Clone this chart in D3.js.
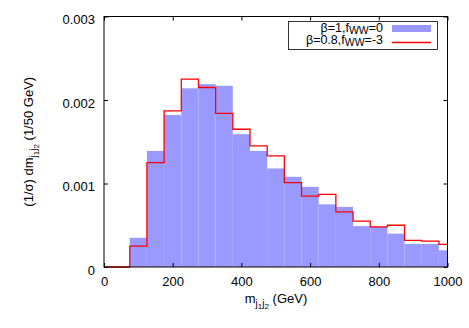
<!DOCTYPE html>
<html>
<head>
<meta charset="utf-8">
<script src="https://cdn.jsdelivr.net/npm/d3@7"></script>
<style>
body { margin: 0; background: #fff; }
text { font-family: "Liberation Sans", Arial, sans-serif; fill: #000; }
</style>
</head>
<body>
<div id="chart"></div>
<script>
// bin edges (GeV), last bin clipped at 1000
const binEdges = [75, 125, 175, 225, 275, 325, 375, 425, 475, 525, 575, 625, 675, 725, 775, 825, 875, 925, 975, 1000];
const sm = [0.00035, 0.00139, 0.00182, 0.00214, 0.00219, 0.00217, 0.00159, 0.00139, 0.00118, 0.00108,
	0.00096, 0.00075, 0.00072, 0.00049, 0.00048, 0.00040, 0.000275, 0.000275, 0.00020];
const bsm = [0.00025, 0.00125, 0.00187, 0.00225, 0.00215, 0.00184, 0.00165, 0.00145, 0.00133, 0.00101,
	0.00085, 0.00087, 0.00066, 0.00055, 0.00048, 0.00050, 0.00032, 0.00031, 0.00027];
const xTicks = [0, 200, 400, 600, 800, 1000];
const yTicks = [0, 0.001, 0.002, 0.003];

drawhist()

function drawhist() {
	const W = 469, H = 328;
	const margin = { top: 16.5, right: 21.5, bottom: 61, left: 104 };

	const svg = d3.select("#chart")
		.append("svg")
		.attr("width", W)
		.attr("height", H);

	const x = d3.scaleLinear()
		.domain([0, 1000])
		.range([margin.left, W - margin.right]);
	const y = d3.scaleLinear()
		.domain([0, 0.003])
		.range([H - margin.bottom, margin.top]);

	// blue filled histogram
	const bins = sm.map((v, i) => ({ x0: binEdges[i], x1: binEdges[i + 1], v: v }));
	svg.append("g")
		.selectAll("rect")
		.data(bins)
		.join("rect")
		.attr("x", d => x(d.x0))
		.attr("y", d => y(d.v))
		.attr("width", d => x(d.x1) - x(d.x0))
		.attr("height", d => y(0) - y(d.v))
		.attr("fill", "#9999ff");

	// red step line
	const pts = [[0, 0]];
	bsm.forEach((v, i) => pts.push([binEdges[i], v]));
	pts.push([1000, bsm[bsm.length - 1]]);
	const line = d3.line()
		.x(d => x(d[0]))
		.y(d => y(d[1]))
		.curve(d3.curveStepAfter);
	svg.append("path")
		.attr("d", line(pts))
		.attr("fill", "none")
		.attr("stroke", "#ff0000")
		.attr("stroke-width", 1.3);

	// axes, ticks inward and mirrored
	const tl = 4;
	svg.append("g")
		.attr("class", "x-axis")
		.attr("transform", `translate(0,${y(0)})`)
		.call(d3.axisBottom(x).tickValues(xTicks).tickSizeInner(-tl).tickSizeOuter(0).tickPadding(10)
			.tickFormat(d3.format("d")));
	svg.append("g")
		.attr("transform", `translate(0,${y(0.003)})`)
		.call(d3.axisTop(x).tickValues(xTicks).tickSizeInner(-tl).tickSizeOuter(0).tickFormat(""));
	svg.append("g")
		.attr("class", "y-axis")
		.attr("transform", `translate(${x(0)},0)`)
		.call(d3.axisLeft(y).tickValues(yTicks).tickSizeInner(-tl).tickSizeOuter(0).tickPadding(9)
			.tickFormat(d => d === 0 ? "0" : d3.format(".3f")(d)));
	svg.append("g")
		.attr("transform", `translate(${x(1000)},0)`)
		.call(d3.axisRight(y).tickValues(yTicks).tickSizeInner(-tl).tickSizeOuter(0).tickFormat(""));

	svg.selectAll(".domain").remove();
	svg.selectAll(".tick line").attr("stroke", "#000");
	svg.selectAll(".tick text")
		.style("font-size", "13px")
		.style("font-family", "Liberation Sans, Arial, sans-serif");
	svg.selectAll(".y-axis .tick text").attr("dy", "0.55em");

	svg.append("rect")
		.attr("x", x(0))
		.attr("y", y(0.003))
		.attr("width", x(1000) - x(0))
		.attr("height", y(0) - y(0.003))
		.attr("fill", "none")
		.attr("stroke", "#000")
		.attr("stroke-width", 1);

	// axis labels
	const xl = svg.append("text")
		.attr("x", 276)
		.attr("y", 303)
		.attr("text-anchor", "middle")
		.style("font-size", "13px");
	mjj(xl);
	xl.append("tspan").attr("dy", -6).text(" (GeV)");

	const yl = svg.append("text")
		.attr("transform", `translate(33,${(y(0) + y(0.003)) / 2}) rotate(-90)`)
		.attr("text-anchor", "middle")
		.style("font-size", "13px");
	yl.append("tspan").text("(1/σ) d");
	mjj(yl);
	yl.append("tspan").attr("dy", -6).text(" (1/50 GeV)");

	function mjj(t) {
		t.append("tspan").text("m");
		t.append("tspan").attr("dy", 4).style("font-size", "10px").text("j");
		t.append("tspan").attr("dy", 2).style("font-size", "8px").text("1");
		t.append("tspan").attr("dy", -2).style("font-size", "10px").text("j");
		t.append("tspan").attr("dy", 2).style("font-size", "8px").text("2");
	}

	// legend
	const lg = svg.append("g");
	lg.append("rect")
		.attr("x", 288.5).attr("y", 21.5)
		.attr("width", 149).attr("height", 28)
		.attr("fill", "#fff")
		.attr("stroke", "#000")
		.attr("stroke-width", 0.8);
	const entries = [["β=1,f", "=0"], ["β=0.8,f", "=-3"]];
	entries.forEach((e, i) => {
		const t = lg.append("text")
			.attr("x", 383)
			.attr("y", 31.5 + i * 12)
			.attr("text-anchor", "end")
			.style("font-size", "12.5px");
		t.append("tspan").text(e[0]);
		t.append("tspan").attr("dy", 2.5).style("font-size", "10.5px").text("WW");
		t.append("tspan").attr("dy", -2.5).text(e[1]);
	});
	lg.append("rect")
		.attr("x", 392).attr("y", 25)
		.attr("width", 39).attr("height", 7)
		.attr("fill", "#9999ff");
	lg.append("line")
		.attr("x1", 392).attr("x2", 431)
		.attr("y1", 42.5).attr("y2", 42.5)
		.attr("stroke", "#ff0000")
		.attr("stroke-width", 1.3);
}
</script>
</body>
</html>
